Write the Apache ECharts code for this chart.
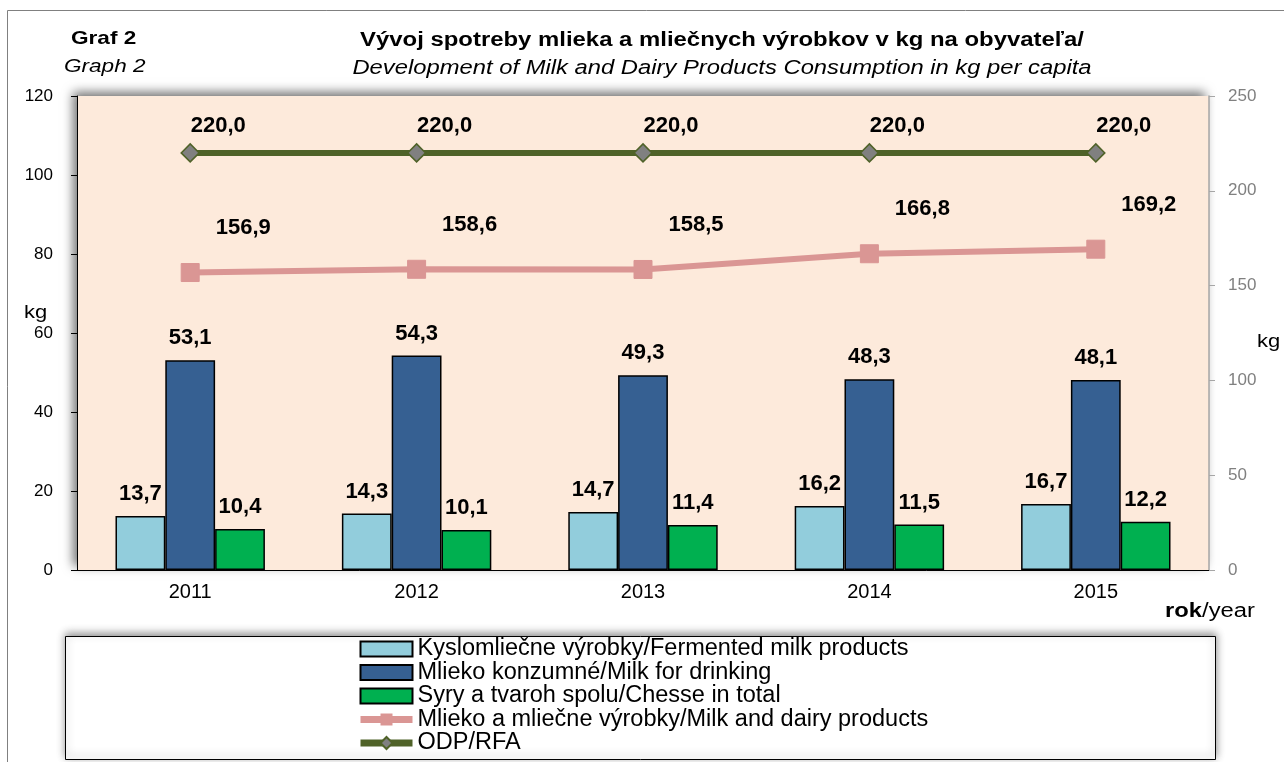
<!DOCTYPE html>
<html>
<head>
<meta charset="utf-8">
<script src="https://cdn.jsdelivr.net/npm/echarts@6/dist/echarts.min.js"></script>
<style>
  html, body { margin: 0; padding: 0; background: #fff; }
  #chart { width: 1284px; height: 762px; }
</style>
</head>
<body>
<div id="chart"></div>
<script>
const years = ['2011', '2012', '2013', '2014', '2015'];
const fermented = [13.7, 14.3, 14.7, 16.2, 16.7];
const drinking = [53.1, 54.3, 49.3, 48.3, 48.1];
const cheese = [10.4, 10.1, 11.4, 11.5, 12.2];
const dairyTotal = [156.9, 158.6, 158.5, 166.8, 169.2];
const rfa = [220.0, 220.0, 220.0, 220.0, 220.0];

const names = [
  'Kyslomliečne výrobky/Fermented milk products',
  'Mlieko konzumné/Milk for drinking',
  'Syry a tvaroh spolu/Chesse in total',
  'Mlieko a mliečne výrobky/Milk and dairy products',
  'ODP/RFA'
];

const FONT = '"Liberation Sans", Arial, sans-serif';
const SX = 1.22; // the reference text is drawn a little wider
const fmt = function (p) { return p.value.toFixed(1).replace('.', ','); };

const valueLabel = {
  show: true, formatter: fmt,
  fontFamily: FONT, fontWeight: 'bold', fontSize: 22, color: '#000'
};

function barSeries(name, data, color) {
  return {
    name: name, type: 'bar', data: data, barGap: '0%', barCategoryGap: '34%',
    itemStyle: { color: color, borderColor: '#000', borderWidth: 1.5 },
    label: Object.assign({ position: 'top', distance: 11 }, valueLabel)
  };
}

function txt(x, y, text, font, align) {
  return { type: 'text', x: x, y: y, scaleX: SX,
    style: { text: text, font: font, fill: '#000', textAlign: align || 'left', textVerticalAlign: 'middle' } };
}

const chart = echarts.init(document.getElementById('chart'));
chart.setOption({
  animation: false,
  textStyle: { fontFamily: FONT },
  graphic: [
    { type: 'rect', z: -10, shape: { x: 7.5, y: 10.5, width: 1300, height: 780 },
      style: { fill: '#fff', stroke: '#808080', lineWidth: 1 } },
    { type: 'rect', z: -5, shape: { x: 65.5, y: 636.5, width: 1150, height: 123 },
      style: { fill: '#fff', stroke: '#000', lineWidth: 1, shadowBlur: 8, shadowColor: 'rgba(0,0,0,0.45)', shadowOffsetY: -3 } },
    txt(71, 39, 'Graf 2', 'bold 18.5px ' + FONT),
    txt(64, 67, 'Graph 2', 'italic 18.5px ' + FONT),
    txt(722, 41, 'Vývoj spotreby mlieka a mliečnych výrobkov v kg na obyvateľa/', 'bold 19.6px ' + FONT, 'center'),
    txt(722, 69, 'Development of Milk and Dairy Products Consumption in kg per capita', 'italic 19.5px ' + FONT, 'center'),
    txt(24, 313, 'kg', '18px ' + FONT),
    txt(1257, 342, 'kg', '18px ' + FONT),
    { type: 'text', x: 1165, y: 612, scaleX: SX,
      style: { rich: { b: { font: 'bold 19.5px ' + FONT, fill: '#000' }, n: { font: '19.5px ' + FONT, fill: '#000' } },
        text: '{b|rok}{n|/year}', textVerticalAlign: 'middle' } }
  ],
  legend: {
    orient: 'vertical', left: 357, top: 637, height: 125, padding: 0,
    itemWidth: 52, itemHeight: 15, itemGap: -0.5,
    textStyle: { fontFamily: FONT, fontSize: 23.5, lineHeight: 22, color: '#000' },
    data: [
      { name: names[0], icon: 'rect' },
      { name: names[1], icon: 'rect' },
      { name: names[2], icon: 'rect' },
      { name: names[3], lineStyle: { width: 7 } },
      { name: names[4], lineStyle: { width: 7 } }
    ]
  },
  grid: {
    left: 77, right: 75, top: 96, bottom: 192, show: true,
    backgroundColor: '#FDEADB', borderWidth: 0,
    shadowColor: 'rgba(0,0,0,0.55)', shadowBlur: 10, shadowOffsetX: -4, shadowOffsetY: -4
  },
  xAxis: {
    type: 'category', data: years,
    axisLine: { lineStyle: { color: '#000', width: 1 } },
    axisTick: { show: false },
    axisLabel: { fontFamily: FONT, fontSize: 20, color: '#000', margin: 12 }
  },
  yAxis: [
    {
      type: 'value', min: 0, max: 120, interval: 20,
      axisLine: { show: true, lineStyle: { color: '#000', width: 1 } },
      axisTick: { show: true, length: 6, lineStyle: { color: '#000' } },
      axisLabel: { fontFamily: FONT, fontSize: 17, color: '#000', margin: 24 },
      splitLine: { show: false }
    },
    {
      type: 'value', min: 0, max: 250, interval: 50,
      axisLine: { show: true, lineStyle: { color: '#A6A6A6', width: 1.5 } },
      axisTick: { show: true, length: 6, lineStyle: { color: '#A6A6A6' } },
      axisLabel: { fontFamily: FONT, fontSize: 17, color: '#808080', margin: 19 },
      splitLine: { show: false }
    }
  ],
  series: [
    barSeries(names[0], fermented, '#92CDDC'),
    barSeries(names[1], drinking, '#366092'),
    barSeries(names[2], cheese, '#00B050'),
    {
      name: names[3], type: 'line', yAxisIndex: 1,
      data: dairyTotal, symbol: 'rect', symbolSize: 18,
      lineStyle: { color: '#DA9694', width: 6 },
      itemStyle: { color: '#DA9694', borderColor: '#DA9694' },
      label: Object.assign({ position: 'top', offset: [53, -19] }, valueLabel)
    },
    {
      name: names[4], type: 'line', yAxisIndex: 1,
      data: rfa, symbol: 'diamond', symbolSize: 18,
      lineStyle: { color: '#4F6228', width: 6 },
      itemStyle: { color: '#808080', borderColor: '#4F6228', borderWidth: 1.5 },
      label: Object.assign({ position: 'top', offset: [28, -1] }, valueLabel)
    }
  ]
});
</script>
</body>
</html>
